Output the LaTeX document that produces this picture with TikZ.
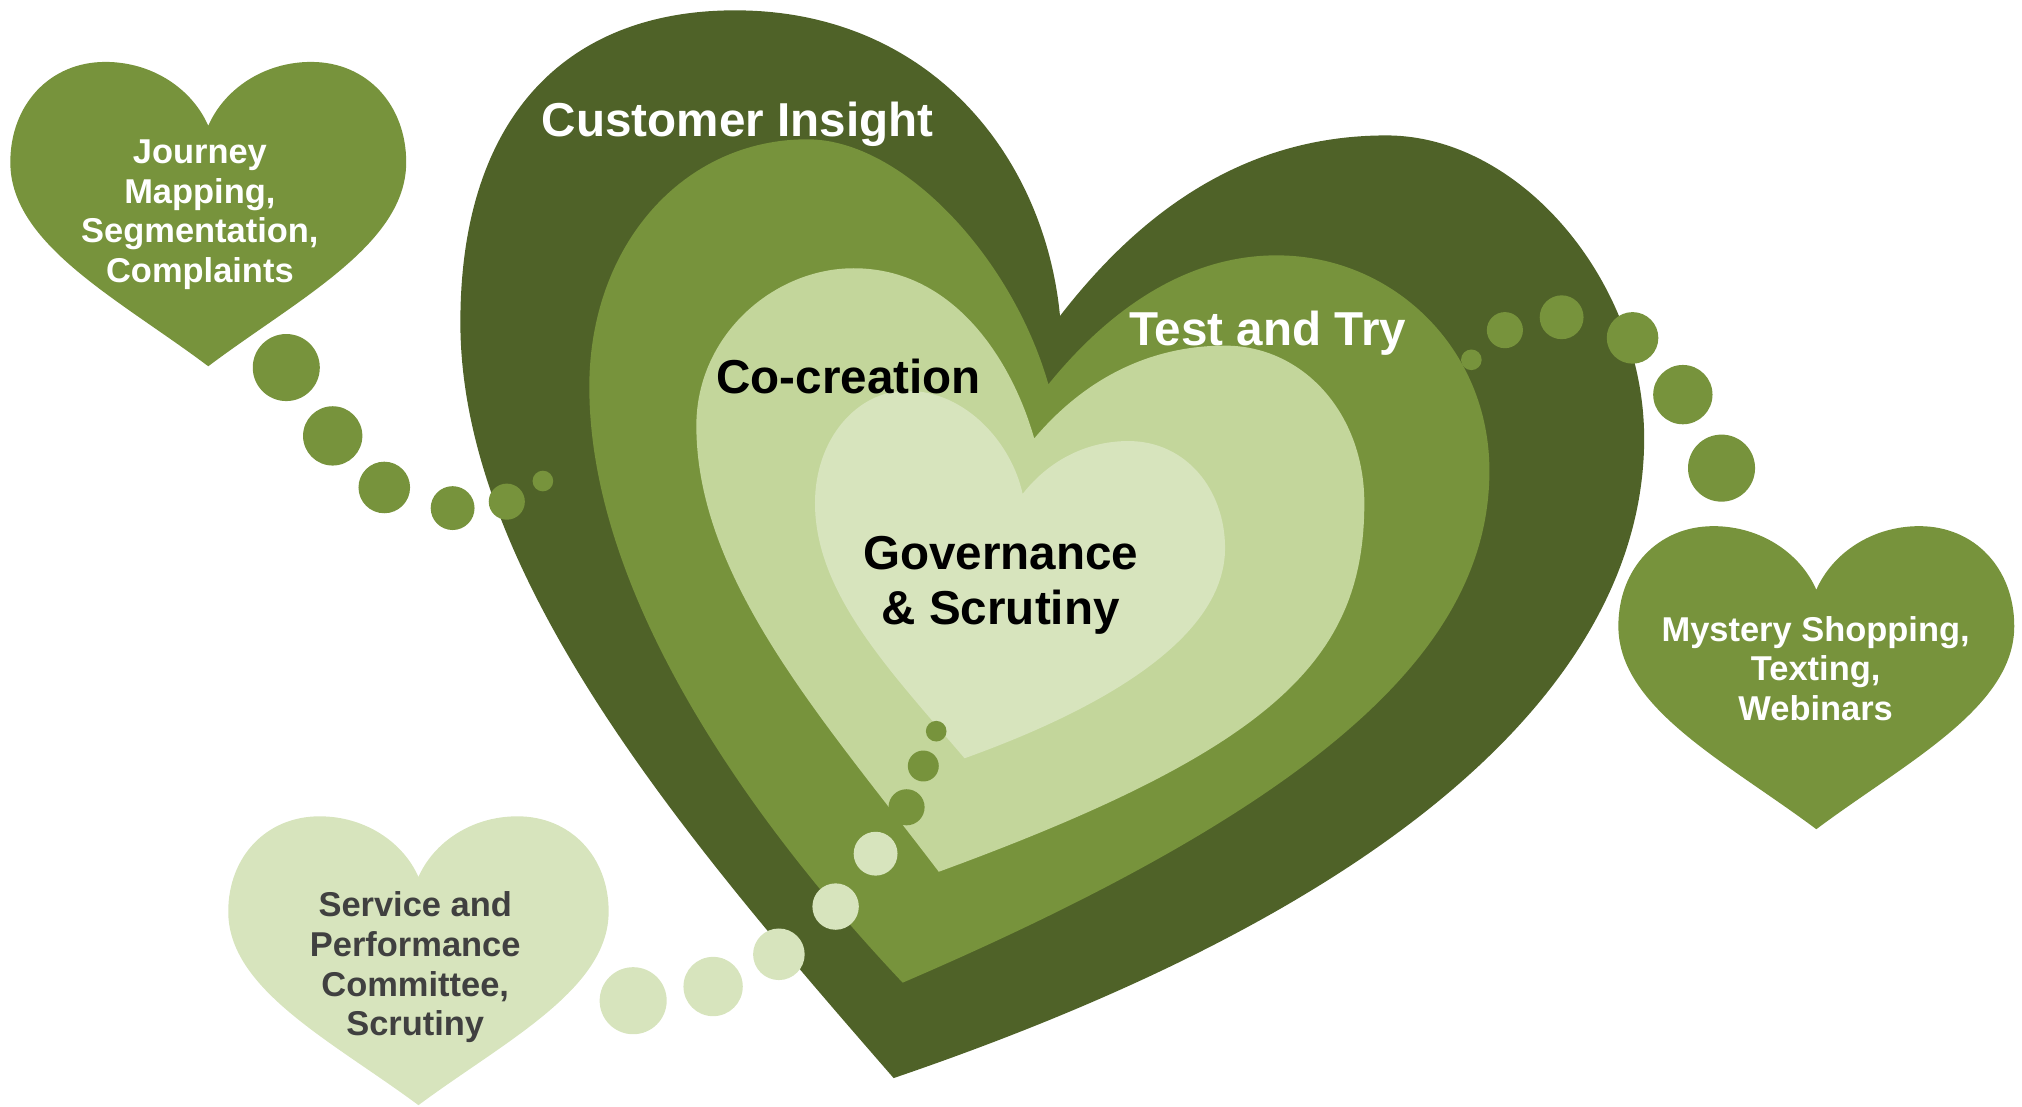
\documentclass[tikz,border=0pt]{standalone}
\usepackage{fontspec}
\setmainfont{Liberation Sans}
\definecolor{dk}{HTML}{4F6228}
\definecolor{md}{HTML}{77933C}
\definecolor{lt}{HTML}{C3D69B}
\definecolor{lr}{HTML}{D7E4BD}
\definecolor{gtxt}{HTML}{404040}
\tikzset{
  upheart/.pic={\path[pic actions] (0,0.21) .. controls (-0.08,0.09) and (-0.28,0) .. (-0.52,0)
     .. controls (-0.8,0) and (-1,0.14) .. (-1,0.33)
     .. controls (-1,0.6) and (-0.45,0.78) .. (0,1)
     .. controls (0.45,0.78) and (1,0.6) .. (1,0.33)
     .. controls (1,0.14) and (0.8,0) .. (0.52,0)
     .. controls (0.28,0) and (0.08,0.09) .. (0,0.21) -- cycle;},
  biglabel/.style={font=\bfseries\fontsize{10.5}{12}\selectfont, align=center, inner sep=0pt},
  smalllabel/.style={font=\bfseries\fontsize{7.6}{8.8}\selectfont, align=center, inner sep=0pt},
}
\begin{document}
\begin{tikzpicture}[x=0.1mm,y=-0.1mm]
\useasboundingbox (0,0) rectangle (1568,858);
% main heart layers
\fill[dk] (693,836) .. controls (540,660) and (357,450) .. (357,250)
 .. controls (357,90) and (440,8) .. (570,8)
 .. controls (720,8) and (810,120) .. (822,245)
 .. controls (880,170) and (960,105) .. (1075,105)
 .. controls (1180,105) and (1275,220) .. (1275,340)
 .. controls (1275,490) and (1150,680) .. (693,836) -- cycle;
\fill[md] (700,762) .. controls (580,635) and (457,460) .. (457,300)
 .. controls (457,190) and (530,108) .. (626,108)
 .. controls (700,108) and (785,200) .. (813,298)
 .. controls (860,240) and (920,198) .. (990,198)
 .. controls (1080,198) and (1155,270) .. (1155,365)
 .. controls (1155,500) and (1030,620) .. (700,762) -- cycle;
\fill[lt] (728,676) .. controls (640,560) and (540,450) .. (540,330)
 .. controls (540,260) and (600,208) .. (662,208)
 .. controls (740,208) and (785,280) .. (802,340)
 .. controls (840,295) and (890,268) .. (950,268)
 .. controls (1010,268) and (1058,320) .. (1058,390)
 .. controls (1058,510) and (990,580) .. (728,676) -- cycle;
\fill[lr] (748,588) .. controls (690,520) and (632,460) .. (632,390)
 .. controls (632,340) and (665,303) .. (703,303)
 .. controls (750,303) and (785,345) .. (793,383)
 .. controls (815,355) and (845,342) .. (875,342)
 .. controls (920,342) and (950,380) .. (950,425)
 .. controls (950,500) and (840,555) .. (748,588) -- cycle;
% small hearts
\pic[fill=md, xscale=153.5, yscale=236] at (161.5,48) {upheart};
\pic[fill=md, xscale=153.5, yscale=235] at (1408.5,408) {upheart};
\pic[fill=lr, xscale=147.5, yscale=224] at (324.5,633) {upheart};
% dots
\fill[md] (222,285) circle (26) (258,338) circle (23) (298,378) circle (20)
  (351,394) circle (17) (393,389) circle (14) (421,373) circle (8);
\fill[md] (1141,279) circle (8) (1167,256) circle (14) (1211,246) circle (17)
  (1266,262) circle (20) (1305,306) circle (23) (1335,363) circle (26);
\fill[md] (726,567) circle (8) (716,594) circle (12) (703,626) circle (14);
\fill[lr] (679,662) circle (17) (648,703) circle (18) (604,740) circle (20)
  (553,765) circle (23) (491,776) circle (26);
% labels
\node[biglabel, white] (ci) at (572,96) {Customer Insight};
\node[biglabel, white] (tt) at (983,258) {Test and Try};
\node[biglabel, black] (cc) at (658,292) {Co-creation};
\node[biglabel, black] (gs) at (776,454) {Governance\\\& Scrutiny};
\node[smalllabel, white] (jm) at (155,166.5) {Journey\\Mapping,\\Segmentation,\\Complaints};
\node[smalllabel, white] (ms) at (1408,518.5) {Mystery Shopping,\\Texting,\\Webinars};
\node[smalllabel, gtxt] (sp) at (322,750) {Service and\\Performance\\Committee,\\Scrutiny};
\end{tikzpicture}
\end{document}
